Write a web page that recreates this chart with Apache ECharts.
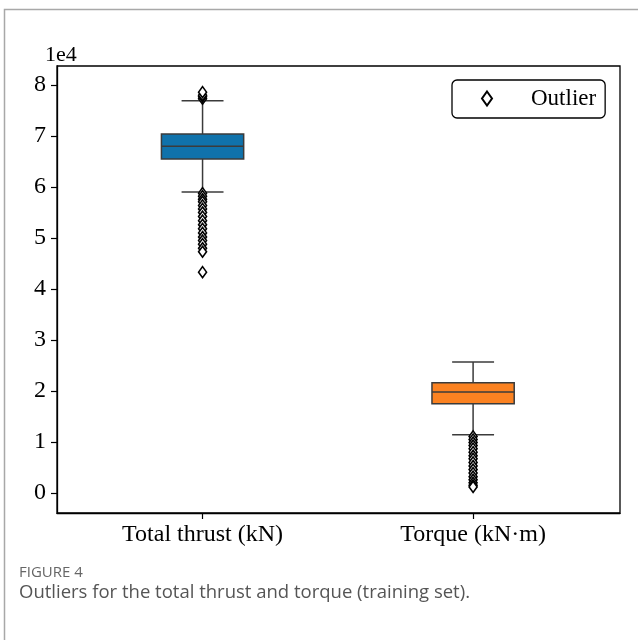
<!DOCTYPE html>
<html>
<head>
<meta charset="utf-8">
<script src="https://cdn.jsdelivr.net/npm/echarts@6/dist/echarts.min.js"></script>
<style>
  html, body { margin: 0; padding: 0; background: #fff; }
  #chart { width: 638px; height: 640px; }
</style>
</head>
<body>
<div id="chart"></div>
<script>
// Box statistics: [lower whisker, Q1, median, Q3, upper whisker] in kN / kN·m
const categories = ['Total thrust (kN)', 'Torque (kN·m)'];
const thrustBox = [59000, 65500, 68000, 70400, 76900];
const torqueBox = [11400, 17500, 19800, 21600, 25700];

// Outlying samples beyond 1.5 IQR
const thrustOutliers = [
  77300, 77700, 78000, 78600,
  58800, 58200, 57600, 57100, 56400, 55700, 55000, 54200, 53400, 52600,
  51800, 51000, 50200, 49500, 48800, 48000, 47300, 43300
];
const torqueOutliers = [
  11100, 10500, 9900, 9300, 8700, 8000, 7300, 6700, 6000, 5300,
  4600, 3900, 3200, 2600, 2000, 1500, 1200
];

const yTicks = [0, 10000, 20000, 30000, 40000, 50000, 60000, 70000, 80000];
const boxColors = ['#1072ab', '#fb8221'];

const serif = 'Liberation Serif';
const edge = '#3b3b3b';

const boxData = [[0].concat(thrustBox), [1].concat(torqueBox)];
const outlierData = thrustOutliers.map(v => [0, v]).concat(torqueOutliers.map(v => [1, v]));

const chart = echarts.init(document.getElementById('chart'), null, { renderer: 'canvas' });

chart.setOption({
  animation: false,
  backgroundColor: '#fff',
  grid: {
    left: 57, top: 66, width: 563, height: 447,
    show: true, borderColor: '#000', borderWidth: 1.3,
    backgroundColor: 'transparent',
    outerBoundsMode: 'none'
  },
  xAxis: {
    type: 'value',
    min: -0.538, max: 1.543,
    axisLine: { show: true, onZero: false, lineStyle: { color: '#000', width: 1.3 } },
    axisTick: { show: true, customValues: [0, 1], length: 6, lineStyle: { color: '#000', width: 1.2 } },
    axisLabel: {
      customValues: [0, 1],
      formatter: v => categories[Math.round(v)],
      fontFamily: serif, fontSize: 24, color: '#000', margin: 10
    },
    splitLine: { show: false }
  },
  yAxis: {
    type: 'value',
    min: -3920, max: 83730,
    axisLine: { show: true, onZero: false, lineStyle: { color: '#000', width: 1.3 } },
    axisTick: { show: true, customValues: yTicks, length: 6, lineStyle: { color: '#000', width: 1.2 } },
    axisLabel: {
      customValues: yTicks,
      formatter: v => String(Math.round(v / 10000)),
      fontFamily: serif, fontSize: 24, color: '#000', margin: 11
    },
    splitLine: { show: false }
  },
  legend: {
    show: true,
    left: 452, top: 80,
    orient: 'vertical',
    padding: [7, 9, 8, 29],
    itemWidth: 10, itemHeight: 14,
    borderColor: '#000', borderWidth: 1.3, borderRadius: 5,
    backgroundColor: '#fff',
    data: [{ name: 'Outlier' }],
    formatter: name => '{t|' + name + '}',
    textStyle: {
      rich: { t: { fontFamily: serif, fontSize: 23, color: '#000', padding: [0, 0, 0, 34] } }
    }
  },
  series: [
    {
      name: 'Box',
      type: 'custom',
      z: 2,
      data: boxData,
      encode: { x: 0, y: [1, 2, 3, 4, 5] },
      renderItem: function (params, api) {
        const x = api.value(0);
        const lo = api.coord([x, api.value(1)]);
        const q1 = api.coord([x, api.value(2)]);
        const md = api.coord([x, api.value(3)]);
        const q3 = api.coord([x, api.value(4)]);
        const hi = api.coord([x, api.value(5)]);
        const bw = api.size([0.304, 0])[0];
        const cw = api.size([0.155, 0])[0];
        const cx = lo[0];
        const st = { stroke: edge, lineWidth: 1.5 };
        return {
          type: 'group',
          children: [
            { type: 'line', shape: { x1: cx, y1: q1[1], x2: cx, y2: lo[1] }, style: st },
            { type: 'line', shape: { x1: cx, y1: q3[1], x2: cx, y2: hi[1] }, style: st },
            { type: 'line', shape: { x1: cx - cw / 2, y1: lo[1], x2: cx + cw / 2, y2: lo[1] }, style: st },
            { type: 'line', shape: { x1: cx - cw / 2, y1: hi[1], x2: cx + cw / 2, y2: hi[1] }, style: st },
            {
              type: 'rect',
              shape: { x: cx - bw / 2, y: q3[1], width: bw, height: q1[1] - q3[1] },
              style: { fill: boxColors[params.dataIndex], stroke: edge, lineWidth: 1.5 }
            },
            { type: 'line', shape: { x1: cx - bw / 2, y1: md[1], x2: cx + bw / 2, y2: md[1] }, style: st }
          ]
        };
      }
    },
    {
      name: 'Outlier',
      type: 'scatter',
      z: 3,
      data: outlierData,
      symbol: 'path://M0,-7L5,0L0,7L-5,0Z',
      symbolSize: [8, 11],
      itemStyle: { color: '#fff', borderColor: '#000', borderWidth: 1.6, opacity: 1 }
    }
  ],
  graphic: [
    {
      type: 'polyline',
      shape: { points: [[4.5, 640], [4.5, 9.5], [638, 9.5]] },
      style: { stroke: '#a8a8a8', lineWidth: 1.5, fill: null },
      silent: true
    },
    {
      type: 'text', left: 45, top: 44,
      style: { text: '1e4', font: '22px "Liberation Serif"', fill: '#000' }
    },
    {
      type: 'text', left: 19, top: 565,
      style: { text: 'FIGURE 4', font: '15px "Open Sans"', fill: '#666' }
    },
    {
      type: 'text', left: 19, top: 583,
      style: { text: 'Outliers for the total thrust and torque (training set).', font: '18.5px "Open Sans"', fill: '#555' }
    }
  ]
});
</script>
</body>
</html>
